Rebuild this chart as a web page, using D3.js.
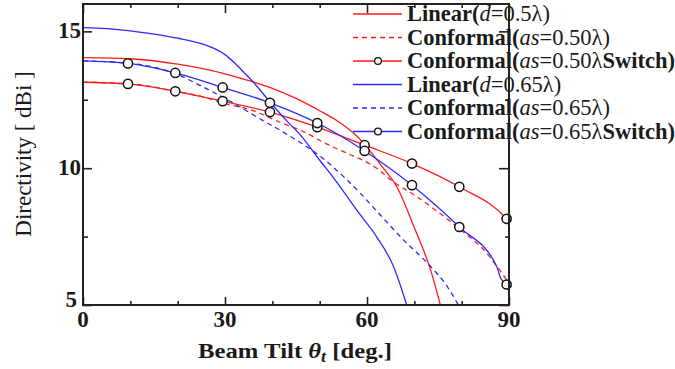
<!DOCTYPE html>
<html><head><meta charset="utf-8">
<script src="https://cdn.jsdelivr.net/npm/d3@7"></script>
<style>
body{margin:0;background:#fff}
text{font-family:"Liberation Serif","Times New Roman",serif;fill:#1a1a1a}
</style>
</head><body>
<svg id="c" width="675" height="369"></svg>
<script>
// ---- data ----
const xTickLabels = [0, 30, 60, 90];
const xMinorTicks = [10, 20, 40, 50, 70, 80];
const yTickLabels = [5, 10, 15];
const yMinorTicks = [7.5, 12.5];

const angLinR = [0,10,20,30,36,40,45,50,54,58,61,63,66.3,69.9,73.4,75.5];
const linR    = [14.04,14.0,13.8,13.45,13.15,12.92,12.55,12.1,11.7,11.15,10.55,10.1,9.32,7.87,6.3,5.0];

const angConfR = [0,10,20,25,30,36,42,46,52,56.4,61,66,70,75,80,85,87.5,90];
const confR    = [13.14,13.08,12.8,12.62,12.36,12.1,11.65,11.38,10.84,10.5,10.12,9.45,9.02,8.4,7.72,6.95,6.4,5.8];

const angSwR = [0,9.5,19.5,29.5,39.5,49.5,59.5,69.5,79.5,89.5,90];
const swR    = [13.14,13.08,12.81,12.45,12.05,11.5,10.84,10.17,9.32,8.15,8.05];

const angLinB = [0,5,10,15,20,25,28,30,32,34,36,40,43,46,50,53,58.6,62,65.6,68.4];
const linB    = [15.14,15.1,15.02,14.9,14.75,14.55,14.35,14.15,13.85,13.5,13.14,12.32,11.74,11.2,10.29,9.63,8.29,7.5,6.41,5.0];

const angConfB = [0,10,20,25,30,35,38,40,44,48,52,55,58.6,62.8,67.7,72.7,76.9,79.3];
const confB    = [13.92,13.83,13.42,13.0,12.55,12.05,11.74,11.55,11.14,10.7,10.17,9.7,9.08,8.29,7.38,6.54,5.69,5.0];

const angSwB = [0,9.5,19.5,29.5,39.5,49.5,59.5,69.5,79.5,87.4,88.2,89.5];
const swB    = [13.92,13.83,13.48,12.95,12.39,11.65,10.63,9.38,7.85,6.41,5.99,5.75];

const markerAngles = [9.5,19.5,29.5,39.5,49.5,59.5,69.5,79.5,89.5];

const RED = "#ff1a1a", BLUE = "#2a2aff";

const series = [
  {ang: angLinR,  val: linR,  color: RED,  dash: null, marks: false, label: ["Linear(", "d", "=0.5λ)", ""]},
  {ang: angConfR, val: confR, color: RED,  dash: "5,4", marks: false, label: ["Conformal(", "as", "=0.50λ)", ""]},
  {ang: angSwR,   val: swR,   color: RED,  dash: null, marks: true,  label: ["Conformal(", "as", "=0.50λ", "Switch)"]},
  {ang: angLinB,  val: linB,  color: BLUE, dash: null, marks: false, label: ["Linear(", "d", "=0.65λ)", ""]},
  {ang: angConfB, val: confB, color: BLUE, dash: "5,4", marks: false, label: ["Conformal(", "as", "=0.65λ)", ""]},
  {ang: angSwB,   val: swB,   color: BLUE, dash: null, marks: true,  label: ["Conformal(", "as", "=0.65λ", "Switch)"]}
];

// ---- layout ----
const L = 83, R = 509, T = 4, B = 305;
const x = d3.scaleLinear().domain([0, 90]).range([L, R]);
const y = d3.scaleLinear().domain([5, 16]).range([B, T]);

const svg = d3.select("#c");
svg.append("defs").append("clipPath").attr("id", "clip")
  .append("rect").attr("x", L).attr("y", T).attr("width", R - L).attr("height", B - T);

const line = d3.line().x(d => x(d[0])).y(d => y(d[1])).curve(d3.curveMonotoneX);
const plot = svg.append("g").attr("clip-path", "url(#clip)");

series.forEach(s => {
  const pts = s.ang.map((a, i) => [a, s.val[i]]);
  plot.append("path").attr("d", line(pts))
    .attr("fill", "none").attr("stroke", s.color).attr("stroke-width", 1.3)
    .attr("stroke-dasharray", s.dash);
});
series.forEach(s => {
  if (!s.marks) return;
  const pts = s.ang.map((a, i) => [a, s.val[i]]).filter(p => markerAngles.includes(p[0]));
  svg.append("g").selectAll("circle").data(pts).join("circle")
    .attr("cx", d => x(d[0])).attr("cy", d => y(d[1])).attr("r", 4.6)
    .attr("fill", "#fff").attr("stroke", "#111").attr("stroke-width", 1.5);
});

// ---- axes (inward ticks on all four sides) ----
function styleAxis(g) {
  g.select(".domain").remove();
  g.selectAll("line").attr("stroke", "#222").attr("stroke-width", 1.6);
}
const fmtNone = () => "";
svg.append("g").attr("transform", `translate(0,${B})`)
  .call(d3.axisBottom(x).tickValues(xTickLabels).tickSize(-8).tickFormat(fmtNone)).call(styleAxis);
svg.append("g").attr("transform", `translate(0,${B})`)
  .call(d3.axisBottom(x).tickValues(xMinorTicks).tickSize(-4).tickFormat(fmtNone)).call(styleAxis);
svg.append("g").attr("transform", `translate(0,${T})`)
  .call(d3.axisTop(x).tickValues(xTickLabels).tickSize(-9).tickFormat(fmtNone)).call(styleAxis);
svg.append("g").attr("transform", `translate(0,${T})`)
  .call(d3.axisTop(x).tickValues(xMinorTicks).tickSize(-4).tickFormat(fmtNone)).call(styleAxis);
svg.append("g").attr("transform", `translate(${L},0)`)
  .call(d3.axisLeft(y).tickValues(yTickLabels).tickSize(-9).tickFormat(fmtNone)).call(styleAxis);
svg.append("g").attr("transform", `translate(${L},0)`)
  .call(d3.axisLeft(y).tickValues(yMinorTicks).tickSize(-5).tickFormat(fmtNone)).call(styleAxis);
svg.append("g").attr("transform", `translate(${R},0)`)
  .call(d3.axisRight(y).tickValues(yTickLabels).tickSize(-10).tickFormat(fmtNone)).call(styleAxis);
svg.append("g").attr("transform", `translate(${R},0)`)
  .call(d3.axisRight(y).tickValues(yMinorTicks).tickSize(-4).tickFormat(fmtNone)).call(styleAxis);

svg.append("rect").attr("x", L).attr("y", T).attr("width", R - L).attr("height", B - T)
  .attr("fill", "none").attr("stroke", "#222").attr("stroke-width", 2);

// tick labels
svg.append("g").selectAll("text").data(xTickLabels).join("text")
  .attr("x", d => x(d)).attr("y", 327).attr("text-anchor", "middle")
  .attr("font-size", 23).attr("font-weight", "bold").text(d => d);
svg.append("g").selectAll("text").data(yTickLabels).join("text")
  .attr("x", d => d === 5 ? 77 : 81).attr("y", d => d === 5 ? 307 : y(d) + 7).attr("text-anchor", "end")
  .attr("font-size", 23).attr("font-weight", "bold").text(d => d);

// axis titles
const xt = svg.append("text").attr("x", 295).attr("y", 358).attr("text-anchor", "middle")
  .attr("font-size", 22).attr("font-weight", "bold")
  .attr("textLength", 194).attr("lengthAdjust", "spacingAndGlyphs");
xt.append("tspan").text("Beam Tilt ");
xt.append("tspan").attr("font-style", "italic").text("θ");
xt.append("tspan").attr("font-style", "italic").attr("font-size", 16).attr("dy", 4).text("t");
xt.append("tspan").attr("dy", -4).text(" [deg.]");

svg.append("text").attr("transform", "translate(31,154) rotate(-90)")
  .attr("text-anchor", "middle").attr("font-size", 23).text("Directivity [ dBi ]");

// legend
const lg = svg.append("g");
series.forEach((s, i) => {
  const cy = 14 + i * 23.5;
  lg.append("line").attr("x1", 353).attr("x2", 402).attr("y1", cy).attr("y2", cy)
    .attr("stroke", s.color).attr("stroke-width", 1.3).attr("stroke-dasharray", s.dash);
  if (s.marks) lg.append("circle").attr("cx", 378).attr("cy", cy).attr("r", 3.4)
    .attr("fill", "#fff").attr("stroke", "#111").attr("stroke-width", 1.3);
  const t = lg.append("text").attr("x", 407).attr("y", cy + 7).attr("font-size", 22.5);
  t.append("tspan").attr("font-weight", "bold").text(s.label[0]);
  t.append("tspan").attr("font-style", "italic").text(s.label[1]);
  t.append("tspan").text(s.label[2]);
  if (s.label[3]) t.append("tspan").attr("font-weight", "bold").text(s.label[3]);
});
</script>
</body></html>
